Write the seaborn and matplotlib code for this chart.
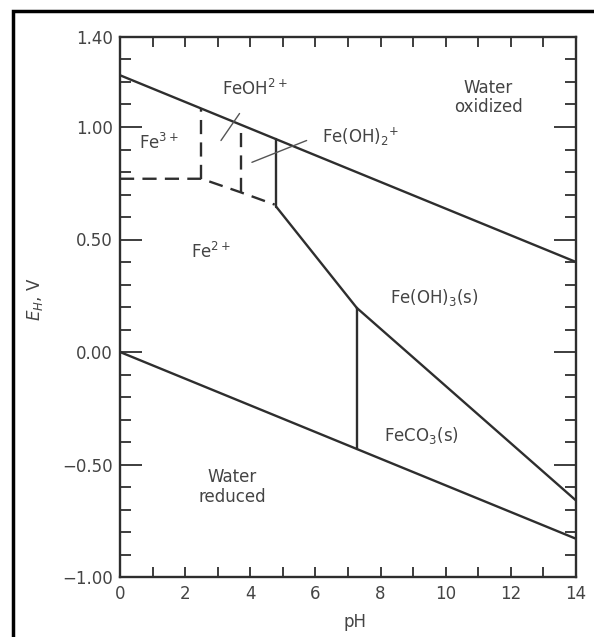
import matplotlib
matplotlib.use("Agg")
import matplotlib.pyplot as plt
from matplotlib.patches import Rectangle
from matplotlib.ticker import MultipleLocator, FixedLocator
import seaborn as sns

# boundaries of the Eh-pH diagram (pH, Eh in V)
water_ox_ph = [0, 14]
water_ox_eh = [1.23, 0.40]
water_red_ph = [0, 14]
water_red_eh = [0.0, -0.83]
fe3_fe2_ph = [0, 2.5, 3.7, 4.75]
fe3_fe2_eh = [0.77, 0.77, 0.71, 0.655]
fe3_feoh_ph = [2.5, 2.5]
fe3_feoh_eh = [0.77, 1.08]
feoh_feoh2_ph = [3.7, 3.7]
feoh_feoh2_eh = [0.71, 1.01]
feoh2_feoh3_ph = [4.8, 4.8]
feoh2_feoh3_eh = [0.645, 0.946]
fe2_feoh3_ph = [4.8, 7.27]
fe2_feoh3_eh = [0.645, 0.196]
feoh3_feco3_ph = [7.27, 14]
feoh3_feco3_eh = [0.196, -0.66]
fe2_feco3_ph = [7.27, 7.27]
fe2_feco3_eh = [0.196, -0.43]

# leader lines for the small fields
feoh_leader_ph = [3.1, 3.67]
feoh_leader_eh = [0.94, 1.06]
feoh2_leader_ph = [4.05, 5.73]
feoh2_leader_eh = [0.843, 0.94]

labels = ["Fe$^{3+}$", "FeOH$^{2+}$", "Fe(OH)$_2$$^{+}$", "Fe$^{2+}$",
          "Water\noxidized", "Fe(OH)$_3$(s)", "FeCO$_3$(s)", "Water\nreduced"]
label_ph = [1.2, 4.15, 7.4, 2.8, 11.3, 9.65, 9.25, 3.45]
label_eh = [0.93, 1.17, 0.955, 0.445, 1.13, 0.24, -0.37, -0.60]

ytick_vals = [1.40, 1.00, 0.50, 0.00, -0.50, -1.00]
xtick_vals = [0, 2, 4, 6, 8, 10, 12, 14]

sns.set_style("ticks")
plt.rcParams["font.family"] = ["DejaVu Sans"]
plt.rcParams["mathtext.fontset"] = "dejavusans"
plt.rcParams["mathtext.default"] = "regular"

ink = "#2e2e2e"
txt = "#444444"
fs = 12

fig = plt.figure(figsize=(5.94, 6.37), dpi=100)
ax = fig.add_axes([120 / 594, 1 - 577 / 637, 456 / 594, 540 / 637])

solid = [(water_ox_ph, water_ox_eh), (water_red_ph, water_red_eh),
         (feoh2_feoh3_ph, feoh2_feoh3_eh), (fe2_feoh3_ph, fe2_feoh3_eh),
         (feoh3_feco3_ph, feoh3_feco3_eh), (fe2_feco3_ph, fe2_feco3_eh)]
for xs, ys in solid:
    sns.lineplot(x=xs, y=ys, ax=ax, color=ink, lw=1.7, sort=False, estimator=None)

dashed = [(fe3_fe2_ph, fe3_fe2_eh), (fe3_feoh_ph, fe3_feoh_eh), (feoh_feoh2_ph, feoh_feoh2_eh)]
for xs, ys in dashed:
    line = sns.lineplot(x=xs, y=ys, ax=ax, color=ink, lw=1.7, sort=False, estimator=None).lines[-1]
    line.set_dashes((6, 3.5))

for xs, ys in [(feoh_leader_ph, feoh_leader_eh), (feoh2_leader_ph, feoh2_leader_eh)]:
    sns.lineplot(x=xs, y=ys, ax=ax, color="#555555", lw=1.0, sort=False, estimator=None)

for s, x, y in zip(labels, label_ph, label_eh):
    ax.text(x, y, s, ha="center", va="center", fontsize=fs, color=txt, linespacing=1.1)

ax.set_xlim(0, 14)
ax.set_ylim(-1.0, 1.4)
ax.xaxis.set_major_locator(FixedLocator(xtick_vals))
ax.xaxis.set_minor_locator(MultipleLocator(1))
ax.yaxis.set_major_locator(FixedLocator(ytick_vals))
ax.yaxis.set_minor_locator(MultipleLocator(0.1))
ax.set_yticklabels([f"{v:.2f}".replace("-", "\u2212") for v in ytick_vals])
ax.set_xticklabels([str(v) for v in xtick_vals])

ax.tick_params(axis="both", which="both", direction="in", colors=ink,
               labelcolor=txt, labelsize=fs, width=1.3)
ax.tick_params(axis="x", which="both", length=7, top=True, pad=6)
ax.tick_params(axis="y", which="major", length=16, pad=5)
ax.tick_params(axis="y", which="minor", length=8)
ax.tick_params(axis="y", which="both", right=True)
for sp in ax.spines.values():
    sp.set_visible(True)
    sp.set_linewidth(1.7)
    sp.set_color(ink)

ax.set_xlabel("pH", fontsize=fs, color=txt)
ax.xaxis.set_label_coords(0.515, -0.066)
ax.set_ylabel("$\\mathit{E_H}$, V", fontsize=fs, color=txt)
ax.yaxis.set_label_coords(-0.165, 0.515)

fig.patches.append(Rectangle((13 / 594, -0.1), 1.2, 0.1 + 1 - 11 / 637,
                             transform=fig.transFigure, fill=False,
                             lw=2.5, edgecolor="black", clip_on=False))

fig.savefig("out.png", dpi=100)
